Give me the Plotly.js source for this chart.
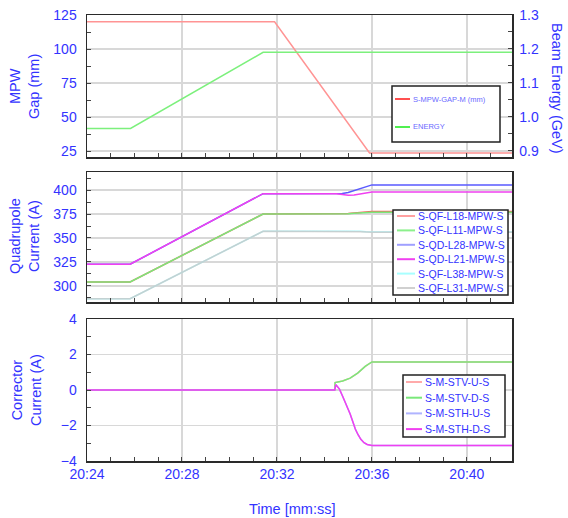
<!DOCTYPE html>
<html><head><meta charset="utf-8">
<script src="https://cdn.plot.ly/plotly-3.0.1.min.js"></script>
<style>html,body{margin:0;padding:0;background:#fff}#chart{width:568px;height:518px}</style>
</head><body><div id="chart"></div>
<script>
// ---------- data ----------
const DAY = '2024-01-01 ';
// Panel 1 : MPW gap (left axis) and beam energy (right axis)
const gapTime = ['20:24:00','20:31:54','20:35:54','20:41:54'];
const gapValues = [120, 120, 23.5, 23.5];
const energyTime = ['20:24:00','20:25:50','20:31:25','20:41:54'];
const energyValues = [0.966, 0.966, 1.19, 1.19];

// Panel 2 : quadrupole currents
const quadTime = ['20:24:00','20:25:49','20:31:25','20:34:30','20:34:45','20:35:00','20:35:15','20:35:30','20:35:45','20:36:00','20:41:54'];
const qfL18 = [304, 304, 375, 375, 375, 375.5, 376.2, 376.8, 377.3, 377.6, 377.6];
const qfL11 = [304, 304, 375, 375, 375, 375.3, 375.8, 376.3, 376.7, 376.8, 376.8];
const qdL28 = [322.5, 322.5, 396.3, 396.3, 396.5, 397.5, 399.5, 401.8, 404, 405.5, 405.5];
const qdL21 = [322.5, 322.5, 396.3, 396.3, 395.5, 394.8, 395, 396, 397.3, 398, 398];
const qfL38 = [286.5, 286.5, 357, 357, 357.5, 357.5, 357.3, 357, 356.5, 356.3, 356.3];
const qfL31 = [286.5, 286.5, 357, 357, 357, 357, 356.8, 356.5, 356.2, 356, 356];
const quadNames = ['S-QF-L18-MPW-S','S-QF-L11-MPW-S','S-QD-L28-MPW-S','S-QD-L21-MPW-S','S-QF-L38-MPW-S','S-QF-L31-MPW-S'];

// Panel 3 : corrector currents
const stvTime = ['20:24:00','20:34:26','20:34:27','20:34:46','20:35:05','20:35:24','20:35:43','20:35:53','20:36:00','20:41:54'];
const stvU = [0, 0, 0.42, 0.51, 0.67, 0.95, 1.33, 1.5, 1.58, 1.58];
const stvD = [0, 0, 0.42, 0.51, 0.67, 0.95, 1.33, 1.5, 1.58, 1.58];
const sthTime = ['20:24:00','20:34:26','20:34:29','20:34:38','20:34:46','20:34:56','20:35:05','20:35:12','20:35:18','20:35:25','20:35:32','20:35:40','20:35:48','20:36:00','20:41:54'];
const sthU = [0, 0, 0.3, 0.05, -0.35, -0.85, -1.35, -1.8, -2.2, -2.52, -2.78, -2.97, -3.07, -3.12, -3.12];
const sthD = [0, 0, 0.3, 0.05, -0.35, -0.85, -1.35, -1.8, -2.2, -2.52, -2.78, -2.97, -3.07, -3.12, -3.12];
const corrNames = ['S-M-STV-U-S','S-M-STV-D-S','S-M-STH-U-S','S-M-STH-D-S'];

const xRange = ['20:24:00','20:41:54'];

// ---------- styling ----------
const FONT = 'Liberation Sans, Arial, sans-serif';
const BLUE = '#3333ff';
const quadColors = ['#ff5c5c','#7ae87a','#5a5aff','#f040f0','#a8f4f8','#c8c8c8'];
const quadSwatch = ['#ffa0a0','#8cf08c','#a0a0ff','#f040f0','#a8ffff','#d0d0d0'];
const corrColors = ['#ffaaaa','#7ae87a','#b0b4ff','#f040f0'];
const t = a => a.map(s => DAY + s);

const traces = [];
traces.push({x:t(gapTime), y:gapValues, xaxis:'x3', yaxis:'y3', mode:'lines', name:'S-MPW-GAP-M (mm)', line:{color:'#ff9494', width:1.5}});
traces.push({x:t(energyTime), y:energyValues, xaxis:'x3', yaxis:'y4', mode:'lines', name:'ENERGY', line:{color:'#7cf07c', width:1.5}});
const quadSeries = [qfL18, qfL11, qdL28, qdL21, qfL38, qfL31];
quadSeries.forEach((s,i) => traces.push({x:t(quadTime), y:s, xaxis:'x2', yaxis:'y2', mode:'lines', name:quadNames[i], line:{color:quadColors[i], width:1.5}, opacity: i===5 ? 0.8 : 1}));
const corrSeries = [[stvTime,stvU],[stvTime,stvD],[sthTime,sthU],[sthTime,sthD]];
corrSeries.forEach((s,i) => traces.push({x:t(s[0]), y:s[1], xaxis:'x', yaxis:'y', mode:'lines', name:corrNames[i], line:{color:corrColors[i], width:1.5}}));

// geometry helpers (pixels -> paper)
const W = 568, H = 518, ML = 87, MR = 56, MT = 15, MB = 57;
const PW = W - ML - MR, PH = H - MT - MB;
const px = x => (x - ML) / PW;
const py = y => (H - MB - y) / PH;

const tickFont = {family: FONT, size: 14, color: BLUE};
const frame = {showline:true, mirror:true, linecolor:'#2a2a2a', linewidth:1.5,
  ticks:'inside', ticklen:4, tickcolor:'#444', tickwidth:1,
  showgrid:true, gridcolor:'#d8d8d8', gridwidth:1.5, zeroline:false};
const xBase = Object.assign({}, frame, {type:'date', range:t(xRange), dtick:240000, tick0:DAY+'20:24:00',
  tickformat:'%H:%M', tickfont:tickFont,
  minor:{dtick:60000, ticks:'inside', ticklen:4, tickcolor:'#444', showgrid:false}});

const layout = {
  width: W, height: H, showlegend: false,
  margin: {l: ML, r: MR, t: MT, b: MB, pad: 0},
  paper_bgcolor: '#fff', plot_bgcolor: '#fff',
  font: {family: FONT, color: BLUE},
  xaxis: Object.assign({}, xBase, {anchor:'y', domain:[0,1]}),
  xaxis2: Object.assign({}, xBase, {anchor:'y2', domain:[0,1], matches:'x', showticklabels:false}),
  xaxis3: Object.assign({}, xBase, {anchor:'y3', domain:[0,1], matches:'x', showticklabels:false}),
  yaxis: Object.assign({}, frame, {anchor:'x', domain:[0, py(319)], range:[-4,4], dtick:2, tick0:0,
    tickfont:tickFont, ticklabelstandoff:6, minor:{dtick:1, ticks:'inside', ticklen:4, tickcolor:'#444', showgrid:false}}),
  yaxis2: Object.assign({}, frame, {anchor:'x2', domain:[py(302), py(172)], range:[283,419], dtick:25, tick0:300,
    tickfont:tickFont, ticklabelstandoff:6, minor:{dtick:12.5, ticks:'inside', ticklen:4, tickcolor:'#444', showgrid:false}}),
  yaxis3: Object.assign({}, frame, {anchor:'x3', domain:[py(157), 1], range:[20.6,125], dtick:25, tick0:25,
    tickfont:tickFont, ticklabelstandoff:6, minor:{dtick:12.5, ticks:'inside', ticklen:4, tickcolor:'#444', showgrid:false}}),
  yaxis4: {anchor:'x3', overlaying:'y3', side:'right', range:[0.882,1.3], dtick:0.1, tick0:0.9, tickformat:'.1f',
    showline:true, linecolor:'#2a2a2a', linewidth:1.5, ticks:'inside', ticklen:4, tickcolor:'#444',
    showgrid:false, zeroline:false, tickfont:tickFont, ticklabelstandoff:3,
    minor:{dtick:0.05, ticks:'inside', ticklen:4, tickcolor:'#444', showgrid:false}},
  annotations: [], shapes: []
};

const titleFont = {family: FONT, size: 14.5, color: BLUE};
function ann(text, x, y, angle, extra) {
  layout.annotations.push(Object.assign({text:text, xref:'paper', yref:'paper', x:px(x), y:py(y),
    xanchor:'center', yanchor:'middle', textangle:angle, showarrow:false, font:titleFont}, extra||{}));
}
ann('MPW<br>Gap (mm)', 24, 87, -90);
ann('Quadrupole<br>Current (A)', 24, 236, -90);
ann('Corrector<br>Current (A)', 26, 390, -90);
ann('Beam Energy (GeV)', 557, 88, 90);
ann('Time [mm:ss]', 292, 509, 0);

// manual legends (boxes, swatches and real text)
function legend(box, items, sw, textX, font) {
  layout.shapes.push({type:'rect', xref:'paper', yref:'paper', x0:px(box[0]), x1:px(box[1]), y0:py(box[3]), y1:py(box[2]),
    line:{color:'#222', width:1.5}, fillcolor:'#fff', layer:'above'});
  items.forEach(it => {
    layout.shapes.push({type:'line', xref:'paper', yref:'paper', x0:px(sw[0]), x1:px(sw[1]), y0:py(it.y), y1:py(it.y),
      line:{color:it.color, width:2}, layer:'above'});
    layout.annotations.push({text:it.name, xref:'paper', yref:'paper', x:px(textX), y:py(it.y), xanchor:'left', yanchor:'middle',
      showarrow:false, font:font});
  });
}
legend([392,500,86,142], [{name:'S-MPW-GAP-M (mm)', color:'#ff5050', y:99}, {name:'ENERGY', color:'#50f050', y:127}],
  [395,410], 411, {family:FONT, size:7.5, color:'#6a6aff'});
legend([393,508,210,295], quadNames.map((n,i)=>({name:n, color:quadSwatch[i], y:216+i*14.4})),
  [397,415], 416, {family:FONT, size:10.5, color:BLUE});
legend([403,505,375,437], corrNames.map((n,i)=>({name:n, color:corrColors[i], y:382+i*15.7})),
  [406,422], 423, {family:FONT, size:10.5, color:BLUE});

Plotly.newPlot('chart', traces, layout, {staticPlot:true, displayModeBar:false});
</script></body></html>
